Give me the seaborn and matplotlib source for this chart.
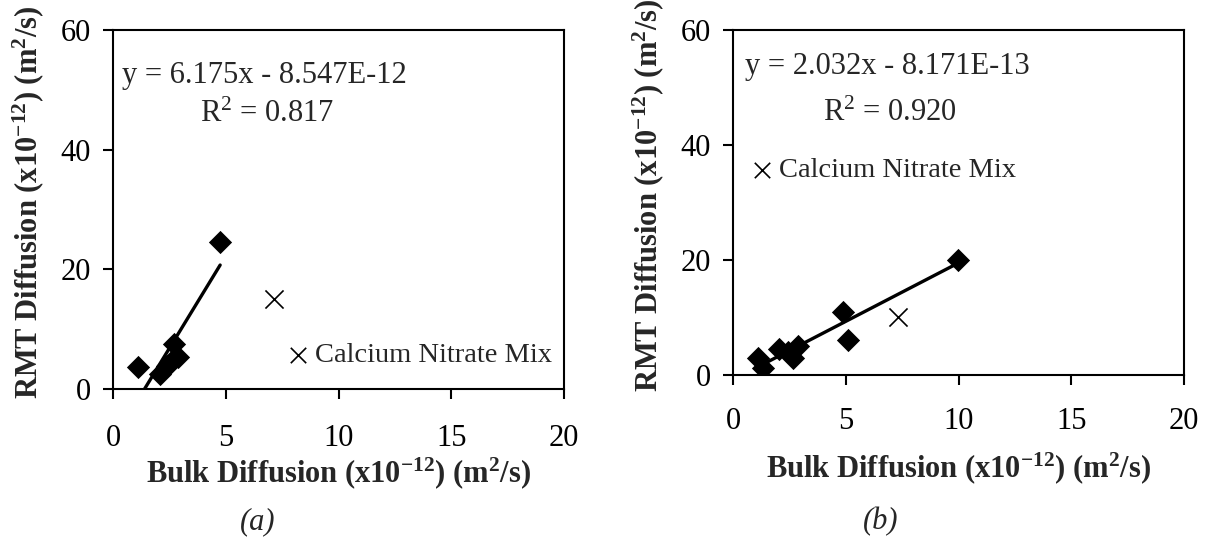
import matplotlib
matplotlib.use("Agg")
import matplotlib.pyplot as plt
import seaborn as sns
import numpy as np
import pandas as pd

# ---- data (x10^-12 m^2/s) ----
a_bulk = [1.08, 2.07, 2.37, 2.55, 2.70, 2.89, 4.74]
a_rmt = [3.6, 2.5, 3.9, 4.6, 7.5, 5.4, 24.5]
a_mix_bulk = [7.11]
a_mix_rmt = [15.1]
a_slope, a_intercept, a_r2 = 6.175, -8.547, 0.817
a_eq = "y = 6.175x - 8.547E-12"

b_bulk = [1.11, 1.30, 2.04, 2.44, 2.67, 2.89, 4.86, 5.11, 9.95]
b_rmt = [2.9, 1.3, 4.6, 4.05, 2.9, 5.0, 11.0, 6.1, 20.0]
b_mix_bulk = [7.3]
b_mix_rmt = [10.0]
b_slope, b_intercept, b_r2 = 2.032, -0.8171, 0.920
b_eq = "y = 2.032x - 8.171E-13"

x_ticks = [0, 5, 10, 15, 20]
y_ticks = [0, 20, 40, 60]
mix_label = "Calcium Nitrate Mix"

sns.set_style("ticks")
plt.rcParams["font.family"] = ["Liberation Serif", "DejaVu Serif"]
plt.rcParams["mathtext.fontset"] = "custom"
plt.rcParams["mathtext.rm"] = "Liberation Serif"
plt.rcParams["mathtext.it"] = "Liberation Serif:italic"
plt.rcParams["mathtext.bf"] = "Liberation Serif:bold"

FS = 22
fig = plt.figure(figsize=(12.12, 5.46), dpi=100)
ax_a = fig.add_axes([0.0935, 0.2875, 0.3719, 0.6575])
ax_b = fig.add_axes([0.6050, 0.3132, 0.3719, 0.6319])

panels = [
    (ax_a, a_bulk, a_rmt, a_mix_bulk, a_mix_rmt, a_slope, a_intercept, a_r2, a_eq,
     (0.37, 51.1), (3.85, 44.7), (0.378, 0.0947), -0.235, 18),
    (ax_b, b_bulk, b_rmt, b_mix_bulk, b_mix_rmt, b_slope, b_intercept, b_r2, b_eq,
     (0.5, 52.4), (4.0, 44.2), (0.033, 0.593), -0.27, 16),
]

for (ax, xb, yr, xm, ym, slope, icpt, r2, eq, eqpos, r2pos, legpos, xlab_y, pad) in panels:
    df = pd.DataFrame({"bulk": xb, "rmt": yr})
    xs = np.array([min(xb), max(xb)])
    fit = pd.DataFrame({"bulk": xs, "rmt": slope * xs + icpt})
    sns.lineplot(data=fit, x="bulk", y="rmt", ax=ax, color="black", lw=2.4, zorder=2)
    sns.scatterplot(data=df, x="bulk", y="rmt", ax=ax, marker="D", s=140,
                    color="black", edgecolor="black", linewidth=0, zorder=3)
    sns.scatterplot(x=xm, y=ym, ax=ax, marker="x", s=170, color="black",
                    linewidth=1.2, zorder=3, label=mix_label)
    ax.set_xlim(0, 20)
    ax.set_ylim(0, 60)
    ax.set_xticks(x_ticks)
    ax.set_yticks(y_ticks)
    for sp in ax.spines.values():
        sp.set_visible(True)
        sp.set_linewidth(1.5)
        sp.set_color("black")
    ax.tick_params(direction="out", length=7.2, width=1.5, color="black",
                   labelsize=FS, labelcolor="black")
    ax.tick_params(axis="x", pad=pad)
    ax.tick_params(axis="y", pad=9)
    ax.set_xlabel(r"Bulk Diffusion (x10$^{\mathbf{-12}}$) (m$^{\mathbf{2}}$/s)",
                  fontsize=FS, fontweight="bold")
    ax.set_ylabel(r"RMT Diffusion (x10$^{\mathbf{-12}}$) (m$^{\mathbf{2}}$/s)",
                  fontsize=FS, fontweight="bold")
    ax.xaxis.set_label_coords(0.5, xlab_y)
    ax.xaxis.label.set_va("center")
    ax.yaxis.set_label_coords(-0.19, 0.52)
    ax.yaxis.label.set_va("center")
    ax.text(eqpos[0], eqpos[1], eq, fontsize=FS, ha="left", va="baseline")
    ax.text(r2pos[0], r2pos[1], r"R$^{2}$ = %.3f" % r2, fontsize=FS, ha="left", va="baseline")
    ax.legend(loc="center left", bbox_to_anchor=legpos, frameon=False, fontsize=20.5,
              handlelength=1.0, handletextpad=0.1, borderpad=0, borderaxespad=0,
              markerscale=0.85)

fig.text(258 / 1212, 1 - 522 / 546, "(a)", fontsize=FS, style="italic", ha="center", va="center")
fig.text(881 / 1212, 1 - 522 / 546, "(b)", fontsize=FS, style="italic", ha="center", va="center")

fig.savefig("out.png", dpi=100, facecolor="white")
